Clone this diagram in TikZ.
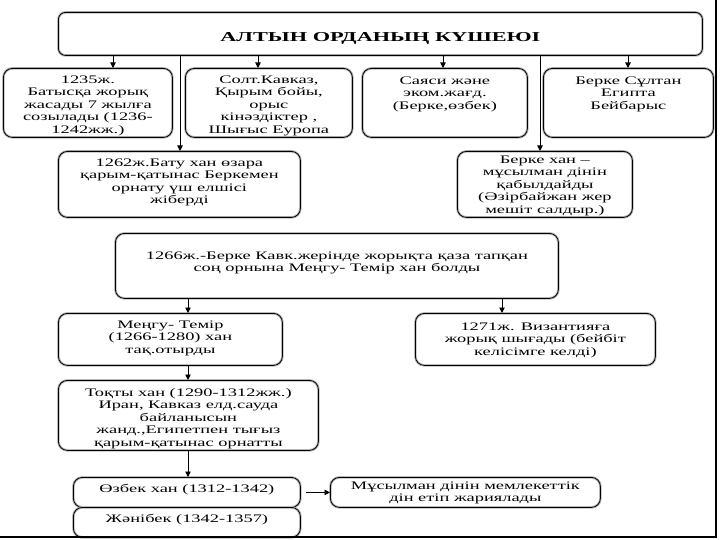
\documentclass[tikz,border=0pt]{standalone}
\usepackage{fontspec}
\usepackage{graphicx}
\setmainfont[FakeStretch=1.6]{Liberation Serif}
\usetikzlibrary{arrows.meta}
\newcommand\inbox[4][7]{\parbox[c][#3pt][t]{#2pt}{\centering\vspace*{#1pt}\strut #4\par}}
\begin{document}
\begin{tikzpicture}[x=1pt,y=-1pt,
  box/.style={anchor=north west,inner sep=0pt,draw=black,line width=.8pt,rounded corners=9pt,
    preaction={draw=gray!55,line width=2.6pt},font=\fontsize{11.5}{12.5}\selectfont},
  arr/.style={line width=.9pt,-{Triangle[length=5.5pt,width=5.5pt]}}]
	\useasboundingbox (0,0) rectangle (720,540);
	\node[box,rounded corners=7pt] (ttl) at (58,12) {\parbox[c][43pt][t]{644pt}{\centering\vspace*{20pt}\resizebox{320pt}{9pt}{\bfseries АЛТЫН ОРДАНЫҢ КҮШЕЮІ}\par}};
	\node[box] (batys) at (3,68) {\inbox[6]{169}{69}{1235ж.\\Батысқа жорық\\жасады 7 жылға\\созылады (1236-\\1242жж.)}};
	\node[box] (kavkaz) at (185,68) {\inbox[6]{167}{69}{Солт.Кавказ,\\Қырым бойы,\\орыс\\кінәздіктер ,\\Шығыс Еуропа}};
	\node[box] (sayasi) at (362,68) {\inbox{165}{69}{Саяси және\\эком.жағд.\\(Берке,өзбек)}};
	\node[box] (misir) at (543,68) {\inbox{170}{69}{Берке Сұлтан\\Египта\\Бейбарыс}};
	\node[box] (batu) at (58,151) {\inbox[6]{242}{66}{1262ж.Бату хан өзара\\қарым-қатынас Беркемен\\орнату үш елшісі\\жіберді}};
	\node[box] (islam) at (457,151) {\inbox[3]{175}{66}{Берке хан –\\мұсылман дінін\\қабылдайды\\(Әзірбайжан жер\\мешіт салдыр.)}};
	\node[box] (berke) at (115,233) {\inbox[17]{443}{65}{1266ж.-Берке Кавк.жерінде жорықта қаза тапқан\\соң орнына Меңгу- Темір хан болды}};
	\node[box] (mengu) at (58,313) {\inbox[6]{224}{52}{Меңгу- Темір\\(1266-1280) хан\\тақ.отырды}};
	\node[box] (vizan) at (415,313) {\inbox[8]{240}{52}{1271ж. Византияға\\жорық шығады (бейбіт\\келісімге келді)}};
	\node[box] (toqty) at (58,380) {\inbox[7]{260}{70}{Тоқты хан (1290-1312жж.)\\Иран, Кавказ елд.сауда\\байланысын\\жанд.,Египетпен тығыз\\қарым-қатынас орнатты}};
	\node[box] (ozbek) at (73,477) {\inbox[6]{227}{30}{Өзбек хан (1312-1342)}};
	\node[box] (zhani) at (73,507) {\inbox[6]{227}{30}{Жәнібек (1342-1357)}};
	\node[box] (dini) at (330,477) {\inbox[3]{270}{30}{Мұсылман дінін мемлекеттік\\дін етіп жариялады}};
	% arrows from the title
	\foreach \x/\n in {113/batys,180/batu,258/kavkaz,443/sayasi,540/islam,628/misir}
	    \draw[arr] (ttl.south -| \x,0) -- (\n.north -| \x,0);
	\foreach \x/\a/\b in {188/berke/mengu,502/berke/vizan,188/mengu/toqty,188/toqty/ozbek}
	    \draw[arr] (\a.south -| \x,0) -- (\b.north -| \x,0);
	\draw[arr] ([xshift=5pt]ozbek.east) -- (dini.west);
	% slide frame
	\draw[line width=1.2pt] (716,0) -- (716,537) -- (0,537);
\end{tikzpicture}
\end{document}
